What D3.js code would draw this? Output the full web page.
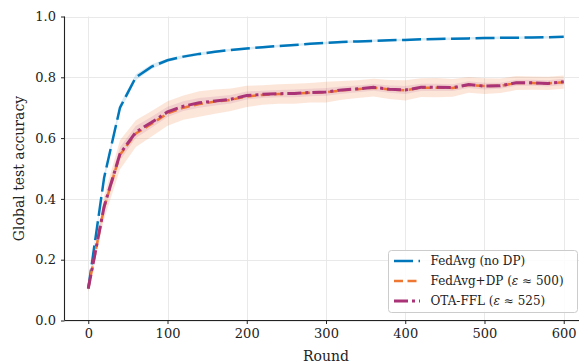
<!DOCTYPE html>
<html><head><meta charset="utf-8">
<script src="https://cdn.jsdelivr.net/npm/d3@7"></script>
<style>body{margin:0;background:#fff}svg{display:block}svg text{font-family:"DejaVu Serif",serif !important}</style>
</head><body><div id="c"></div>
<script>
const rounds = [0,20,40,60,80,100,120,140,160,180,200,220,240,260,280,300,320,340,360,380,400,420,440,460,480,500,520,540,560,580,600];
const fedavg = [0.105,0.47,0.70,0.80,0.835,0.856,0.868,0.877,0.884,0.890,0.895,0.899,0.903,0.906,0.910,0.913,0.916,0.918,0.920,0.922,0.923,0.925,0.926,0.927,0.928,0.929,0.930,0.930,0.931,0.932,0.933];
const fedavgStd = [0.005,0.012,0.012,0.010,0.008,0.006,0.005,0.005,0.004,0.004,0.004,0.004,0.004,0.004,0.004,0.004,0.004,0.004,0.004,0.004,0.004,0.004,0.004,0.004,0.004,0.004,0.004,0.004,0.004,0.004,0.004];
const fedavgDP = [0.105,0.372,0.545,0.615,0.647,0.681,0.700,0.712,0.720,0.726,0.737,0.742,0.745,0.746,0.749,0.751,0.757,0.761,0.766,0.760,0.757,0.766,0.766,0.765,0.775,0.771,0.772,0.781,0.781,0.780,0.784];
const fedavgDPStd = [0.012,0.038,0.048,0.044,0.042,0.040,0.040,0.042,0.040,0.037,0.035,0.032,0.032,0.033,0.032,0.034,0.031,0.029,0.029,0.031,0.033,0.031,0.032,0.029,0.026,0.026,0.024,0.023,0.022,0.022,0.022];
const otaffl = [0.105,0.375,0.548,0.620,0.652,0.686,0.705,0.716,0.722,0.728,0.740,0.744,0.746,0.747,0.750,0.752,0.758,0.762,0.767,0.761,0.758,0.767,0.767,0.766,0.776,0.771,0.772,0.782,0.782,0.780,0.785];
const otafflStd = [0.006,0.018,0.022,0.020,0.018,0.017,0.016,0.016,0.015,0.014,0.013,0.012,0.012,0.013,0.012,0.013,0.012,0.011,0.011,0.012,0.013,0.012,0.012,0.011,0.011,0.011,0.010,0.010,0.010,0.010,0.010];
const xTicks = [0,100,200,300,400,500,600];
const yTicks = [0.0,0.2,0.4,0.6,0.8,1.0];
const labels = ["FedAvg (no DP)","FedAvg+DP (ε ≈ 500)","OTA-FFL (ε ≈ 525)"];

const W=579,H=364;
const FONT='"DejaVu Serif", serif';
const svg=d3.select("#c").append("svg").attr("width",W).attr("height",H).style("font-family",FONT);
const x=d3.scaleLinear().domain([-30,630]).range([64.5,587.5]);
const y=d3.scaleLinear().domain([0,1]).range([320.5,16.5]);

const series=[
 {v:fedavg,s:fedavgStd,c:"#0077BB",dash:"19,5.5",w:2.5,a:0.15},
 {v:fedavgDP,s:fedavgDPStd,c:"#EE7733",dash:"9,4.5",w:2.5,a:0.18},
 {v:otaffl,s:otafflStd,c:"#AA3377",dash:"14,4,3,4",w:3,a:0.13}
];

// grid
const g=svg.append("g");
g.selectAll(".gx").data(xTicks).join("line").attr("x1",d=>Math.round(x(d))+0.5).attr("x2",d=>Math.round(x(d))+0.5)
 .attr("y1",y(1)).attr("y2",y(0)).attr("stroke","#e6e6e6").attr("stroke-width",0.9);
g.selectAll(".gy").data(yTicks).join("line").attr("y1",d=>Math.round(y(d))+0.5).attr("y2",d=>Math.round(y(d))+0.5)
 .attr("x1",x.range()[0]).attr("x2",x.range()[1]).attr("stroke","#e6e6e6").attr("stroke-width",0.9);

const area=(s)=>d3.area().x((d,i)=>x(rounds[i])).y0((d,i)=>y(s.v[i]-s.s[i])).y1((d,i)=>y(s.v[i]+s.s[i]));
series.forEach(s=>{
 svg.append("path").datum(s.v).attr("d",area(s)).attr("fill",s.c).attr("fill-opacity",s.a).attr("stroke","none");
});
const line=d3.line().x((d,i)=>x(rounds[i])).y(d=>y(d));
series.forEach(s=>{
 svg.append("path").datum(s.v).attr("d",line).attr("fill","none").attr("stroke",s.c)
  .attr("stroke-width",s.w).attr("stroke-dasharray",s.dash);
});

// axes
const xa=svg.append("g").attr("transform","translate(0,320.5)").call(d3.axisBottom(x).tickValues(xTicks).tickSize(3.5).tickPadding(5).tickFormat(d3.format("d")));
const ya=svg.append("g").attr("transform","translate(64.5,0)").call(d3.axisLeft(y).tickValues(yTicks).tickSize(3.5).tickPadding(5).tickFormat(d3.format(".1f")));
[xa,ya].forEach(a=>{a.attr("font-family",FONT).style("font-family",FONT);
 a.selectAll("text").attr("font-size",13).attr("fill","#222").style("font-family",FONT);
 a.selectAll("line").attr("stroke","#222").attr("stroke-width",1);
 a.select(".domain").attr("stroke","#222").attr("stroke-width",1.1);});
ya.select(".domain").attr("d","M0,16.5V320.5");
xa.select(".domain").attr("d","M64.5,0H579");

svg.append("text").attr("x",326).attr("y",361).attr("text-anchor","middle").attr("font-size",14).attr("fill","#222").style("font-family",FONT).text("Round");
svg.append("text").attr("transform","translate(24,168.5) rotate(-90)").attr("text-anchor","middle").attr("font-size",14).attr("fill","#222").style("font-family",FONT).text("Global test accuracy");

// legend
const lg=svg.append("g");
lg.append("rect").attr("x",388.5).attr("y",250.5).attr("width",189).attr("height",62).attr("rx",3)
 .attr("fill","#fff").attr("fill-opacity",0.85).attr("stroke","#cccccc");
series.forEach((s,i)=>{
 const yy=261+i*20;
 lg.append("line").attr("x1",394).attr("x2",420).attr("y1",yy).attr("y2",yy).attr("stroke",s.c).attr("stroke-width",s.w).attr("stroke-dasharray",s.dash);
 const t=lg.append("text").attr("x",430.5).attr("y",yy+4.3).attr("font-size",12).attr("fill","#222").style("font-family",FONT);
 const parts=labels[i].split("ε");
 t.append("tspan").text(parts[0]);
 if(parts.length>1){t.append("tspan").attr("font-style","italic").text("ε");t.append("tspan").text(parts[1]);}
});
</script></body></html>
